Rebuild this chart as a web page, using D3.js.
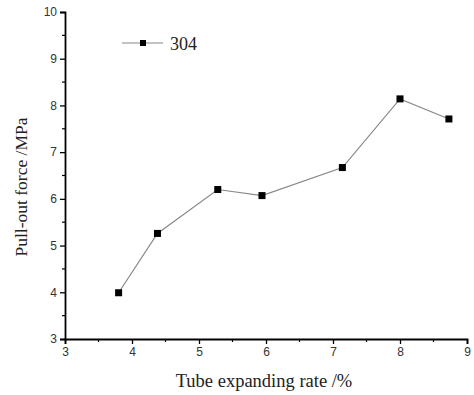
<!DOCTYPE html>
<html>
<head>
<meta charset="utf-8">
<script src="https://cdn.jsdelivr.net/npm/d3@7"></script>
<style>
  body { margin: 0; background: #fff; }
  svg { display: block; }
</style>
</head>
<body>
<div id="chart"></div>
<script>
// data
var seriesName = "304";
var expandRate = [3.80, 4.38, 5.28, 5.94, 7.14, 8.00, 8.73];
var pullOut = [3.99, 5.26, 6.20, 6.07, 6.67, 8.14, 7.71];
var xTicks = [3, 4, 5, 6, 7, 8, 9];
var yTicks = [3, 4, 5, 6, 7, 8, 9, 10];

var width = 474, height = 395;
var margin = { left: 65, right: 7, top: 12, bottom: 56 };

var svg = d3.select("#chart").append("svg")
    .attr("width", width)
    .attr("height", height);

var x = d3.scaleLinear().domain([3, 9]).range([margin.left, width - margin.right]);
var y = d3.scaleLinear().domain([3, 10]).range([height - margin.bottom, margin.top]);

var minorX = d3.range(3.5, 9, 1);
var minorY = d3.range(3.5, 10, 1);

// x axis
var gx = svg.append("g").attr("transform", "translate(0," + y(3) + ")");
gx.call(d3.axisBottom(x).tickValues(xTicks).tickFormat(d3.format("d")).tickSizeOuter(0).tickSize(5).tickPadding(3));
gx.selectAll(".minor").data(minorX).join("line")
    .attr("class", "minor")
    .attr("x1", d => x(d)).attr("x2", d => x(d))
    .attr("y1", 0).attr("y2", 3)
    .attr("stroke", "#000").attr("stroke-width", 1.2);

// y axis
var gy = svg.append("g").attr("transform", "translate(" + x(3) + ",0)");
gy.call(d3.axisLeft(y).tickValues(yTicks).tickFormat(d3.format("d")).tickSizeOuter(0).tickSize(5).tickPadding(3));
gy.selectAll(".minor").data(minorY).join("line")
    .attr("class", "minor")
    .attr("x1", 0).attr("x2", -3)
    .attr("y1", d => y(d)).attr("y2", d => y(d))
    .attr("stroke", "#000").attr("stroke-width", 1.2);

[gx, gy].forEach(function (g) {
    g.select(".domain").attr("stroke", "#000").attr("stroke-width", 1.8);
    g.selectAll(".tick line").attr("stroke", "#000").attr("stroke-width", 1.3);
    g.selectAll(".tick text")
        .attr("font-family", "'Liberation Sans', Arial, sans-serif")
        .attr("font-size", 12)
        .attr("fill", "#333");
});

// axis titles
svg.append("text")
    .attr("x", 264)
    .attr("y", 387)
    .attr("text-anchor", "middle")
    .attr("font-family", "'Liberation Serif', 'Times New Roman', serif")
    .attr("font-size", 18.5)
    .attr("fill", "#222")
    .text("Tube expanding rate /%");

svg.append("text")
    .attr("transform", "translate(27,187) rotate(-90)")
    .attr("text-anchor", "middle")
    .attr("font-family", "'Liberation Serif', 'Times New Roman', serif")
    .attr("font-size", 17.5)
    .attr("fill", "#222")
    .text("Pull-out force /MPa");

// series
var pts = expandRate.map((d, i) => [d, pullOut[i]]);
var line = d3.line().x(d => x(d[0])).y(d => y(d[1]));

svg.append("path")
    .datum(pts)
    .attr("d", line)
    .attr("fill", "none")
    .attr("stroke", "#888")
    .attr("stroke-width", 1.2);

var ms = 7;
svg.selectAll(".pt").data(pts).join("rect")
    .attr("class", "pt")
    .attr("x", d => x(d[0]) - ms / 2)
    .attr("y", d => y(d[1]) - ms / 2)
    .attr("width", ms).attr("height", ms)
    .attr("fill", "#000");

// legend
var lg = svg.append("g").attr("transform", "translate(122,43)");
lg.append("line").attr("x1", 0).attr("x2", 41).attr("y1", 0).attr("y2", 0)
    .attr("stroke", "#888").attr("stroke-width", 1.2);
lg.append("rect").attr("x", 21 - 3).attr("y", -3)
    .attr("width", 6).attr("height", 6).attr("fill", "#000");
lg.append("text").attr("x", 48).attr("y", 7)
    .attr("font-family", "'Liberation Serif', 'Times New Roman', serif")
    .attr("font-size", 18)
    .attr("fill", "#222")
    .text(seriesName);
</script>
</body>
</html>
